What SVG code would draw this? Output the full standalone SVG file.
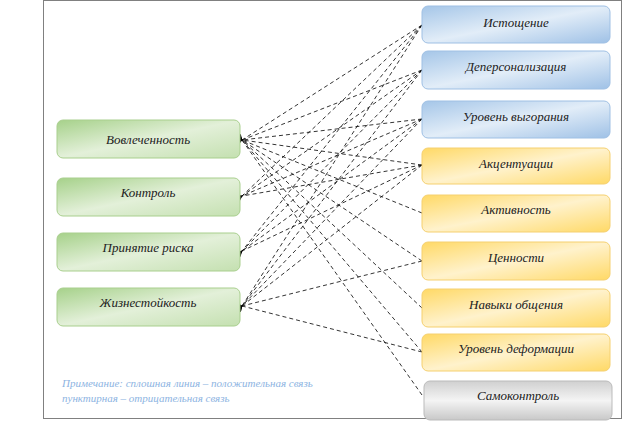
<svg xmlns="http://www.w3.org/2000/svg" width="624" height="436" viewBox="0 0 624 436">
<defs>
<linearGradient id="g" x1="0" y1="0" x2="1" y2="1"><stop offset="0" stop-color="#a6d18a"/><stop offset="0.5" stop-color="#e3f0d9"/><stop offset="1" stop-color="#c4e0b0"/></linearGradient>
<linearGradient id="b" x1="0" y1="0" x2="1" y2="1"><stop offset="0" stop-color="#a5c6e8"/><stop offset="0.5" stop-color="#e2edf8"/><stop offset="1" stop-color="#9fc1e6"/></linearGradient>
<linearGradient id="y" x1="0" y1="0" x2="1" y2="1"><stop offset="0" stop-color="#ffd966"/><stop offset="0.5" stop-color="#fff2cc"/><stop offset="1" stop-color="#ffd966"/></linearGradient>
<linearGradient id="s" x1="0" y1="0" x2="0" y2="1"><stop offset="0" stop-color="#d0d0d0"/><stop offset="0.5" stop-color="#f4f4f4"/><stop offset="1" stop-color="#c8c8c8"/></linearGradient>
<marker id="a" markerWidth="8" markerHeight="6" refX="1" refY="3" orient="auto"><path d="M8,0 L0,3 L8,6 z" fill="#000"/></marker>
</defs>
<style>
rect.n{stroke-width:1;}
text{font-family:"Liberation Serif",serif;font-style:italic;font-size:13px;fill:#222;text-anchor:middle;}
.c line{stroke:#000;stroke-width:0.8;stroke-dasharray:4 3;marker-end:url(#a);}
</style>
<rect x="43.5" y="0.5" width="578" height="418" fill="none" stroke="#000" stroke-dasharray="1 1"/>
<g class="c">
<line x1="422" y1="25" x2="242" y2="140"/><line x1="422" y1="70" x2="242" y2="140"/><line x1="422" y1="119" x2="242" y2="140"/><line x1="422" y1="165" x2="242" y2="140"/><line x1="422" y1="213" x2="242" y2="140"/><line x1="422" y1="261" x2="242" y2="140"/><line x1="422" y1="308" x2="242" y2="140"/><line x1="422" y1="352" x2="242" y2="140"/><line x1="422" y1="395" x2="242" y2="140"/>
<line x1="422" y1="25" x2="242" y2="196"/><line x1="422" y1="70" x2="242" y2="196"/><line x1="422" y1="119" x2="242" y2="196"/><line x1="422" y1="165" x2="242" y2="196"/>
<line x1="422" y1="25" x2="242" y2="251"/><line x1="422" y1="70" x2="242" y2="251"/><line x1="422" y1="119" x2="242" y2="251"/><line x1="422" y1="165" x2="242" y2="251"/>
<line x1="422" y1="25" x2="242" y2="306"/><line x1="422" y1="70" x2="242" y2="306"/><line x1="422" y1="119" x2="242" y2="306"/><line x1="422" y1="165" x2="242" y2="306"/><line x1="422" y1="261" x2="242" y2="306"/><line x1="422" y1="352" x2="242" y2="306"/>
</g>
<g id="n1"><rect class="n" x="57" y="120" width="183" height="38" rx="6" fill="url(#g)" stroke="#a9cf8e"/><text x="148" y="144">Вовлеченность</text></g>
<g id="n2"><rect class="n" x="57" y="178" width="183" height="38" rx="6" fill="url(#g)" stroke="#a9cf8e"/><text x="148" y="197">Контроль</text></g>
<g id="n3"><rect class="n" x="57" y="233" width="183" height="38" rx="6" fill="url(#g)" stroke="#a9cf8e"/><text x="148" y="252">Принятие риска</text></g>
<g id="n4"><rect class="n" x="57" y="288" width="183" height="38" rx="6" fill="url(#g)" stroke="#a9cf8e"/><text x="148" y="307">Жизнестойкость</text></g>
<g id="r1"><rect class="n" x="422" y="6" width="188" height="37" rx="6" fill="url(#b)" stroke="#9fc0e4"/><text x="516" y="27">Истощение</text></g>
<g id="r2"><rect class="n" x="422" y="51" width="188" height="38" rx="6" fill="url(#b)" stroke="#9fc0e4"/><text x="516" y="71">Деперсонализация</text></g>
<g id="r3"><rect class="n" x="422" y="101" width="188" height="37" rx="6" fill="url(#b)" stroke="#9fc0e4"/><text x="516" y="121">Уровень выгорания</text></g>
<g id="r4"><rect class="n" x="422" y="148" width="188" height="36" rx="6" fill="url(#y)" stroke="#f5d070"/><text x="516" y="168">Акцентуации</text></g>
<g id="r5"><rect class="n" x="422" y="195" width="188" height="37" rx="6" fill="url(#y)" stroke="#f5d070"/><text x="516" y="214">Активность</text></g>
<g id="r6"><rect class="n" x="422" y="242" width="188" height="38" rx="6" fill="url(#y)" stroke="#f5d070"/><text x="516" y="262">Ценности</text></g>
<g id="r7"><rect class="n" x="422" y="289" width="188" height="38" rx="6" fill="url(#y)" stroke="#f5d070"/><text x="516" y="309">Навыки общения</text></g>
<g id="r8"><rect class="n" x="422" y="334" width="188" height="37" rx="6" fill="url(#y)" stroke="#f5d070"/><text x="516" y="353">Уровень деформации</text></g>
<g id="r9"><rect class="n" x="424" y="381" width="188" height="39" rx="6" fill="url(#s)" stroke="#bbb"/><text x="518" y="400">Самоконтроль</text></g>
<text x="62" y="387" style="text-anchor:start;font-size:11px;fill:#8db4e2">Примечание: сплошная линия – положительная связь</text>
<text x="62" y="402" style="text-anchor:start;font-size:11px;fill:#8db4e2">пунктирная – отрицательная связь</text>
</svg>
